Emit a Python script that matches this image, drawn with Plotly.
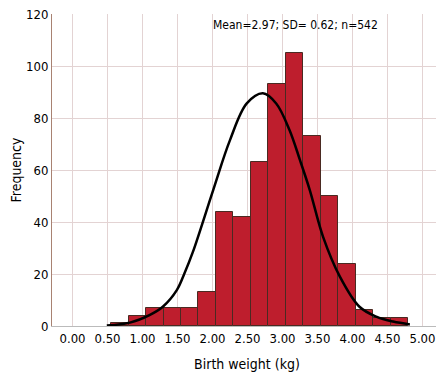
import plotly.graph_objects as go

# Histogram data (bin left edges, width 0.25 kg) and counts
bin_left = [0.55, 0.80, 1.05, 1.30, 1.55, 1.80, 2.05, 2.30, 2.55, 2.80,
            3.05, 3.30, 3.55, 3.80, 4.05, 4.30, 4.55]
counts = [1, 4, 7, 7, 7, 13, 44, 42, 63, 93, 105, 73, 50, 24, 6, 3, 3]
bin_width = 0.25

# Fitted curve, points
curve_x = [0.49, 0.82, 1.10, 1.29, 1.49, 1.60, 1.72, 2.01, 2.25, 2.49, 2.72,
           2.91, 3.10, 3.25, 3.39, 3.58, 3.82, 4.10, 4.34, 4.58, 4.82]
curve_y = [0.2, 1.3, 4.2, 7.4, 13.8, 20.3, 28.5, 52.3, 71.5, 85.6, 89.5,
           85.6, 75.4, 63.8, 52.3, 34.3, 19.0, 7.4, 3.6, 1.7, 0.6]

x_ticks = [0.0, 0.5, 1.0, 1.5, 2.0, 2.5, 3.0, 3.5, 4.0, 4.5, 5.0]
x_tick_labels = ["0.00", "0.50", "1.00", "1.50", "2.00", "2.50", "3.00",
                 "3.50", "4.00", "4.50", "5.00"]
y_ticks = [0, 20, 40, 60, 80, 100, 120]

FONT = "Liberation Sans Narrow, DejaVu Sans Condensed, Arial Narrow, sans-serif"

centers = [b + bin_width / 2 for b in bin_left]

fig = go.Figure()
fig.add_trace(go.Bar(
    x=centers, y=counts, width=[bin_width] * len(counts),
    marker=dict(color="#BE1E2D", line=dict(color="#4A2A22", width=1)),
    showlegend=False, hoverinfo="x+y",
))
fig.add_trace(go.Scatter(
    x=curve_x, y=curve_y, mode="lines",
    line=dict(color="black", width=2.5, shape="spline", smoothing=1.0),
    showlegend=False,
))

fig.add_annotation(
    x=3.18, y=115.8, xref="x", yref="y",
    text="Mean=2.97; SD= 0.62; n=542", showarrow=False,
    font=dict(family=FONT, size=12, color="black"),
)

# page body has an 8px default margin, so the figure is sized to fit the window
fig.update_layout(
    width=436, height=366,
    margin=dict(l=44, r=2, t=6, b=48),
    plot_bgcolor="white", paper_bgcolor="white",
    font=dict(family=FONT, color="black", size=13),
    bargap=0,
)
fig.update_xaxes(
    range=[-0.293, 5.279], tickvals=x_ticks, ticktext=x_tick_labels,
    showgrid=True, gridcolor="#E3D3D3", gridwidth=1,
    showline=True, linecolor="#BBBBBB", linewidth=1,
    zeroline=False, ticks="", tickfont=dict(size=13), automargin=False,
    ticklabeloverflow="allow",
    title=dict(text="Birth weight (kg)", font=dict(size=14), standoff=14),
)
fig.update_yaxes(
    range=[0, 120], tickvals=y_ticks,
    showgrid=True, gridcolor="#E3D3D3", gridwidth=1,
    showline=True, linecolor="#A88272", linewidth=1,
    zeroline=False, ticks="", tickfont=dict(size=13), automargin=False,
    ticklabeloverflow="allow",
    title=dict(text="Frequency", font=dict(size=14), standoff=6),
)

fig.write_html("out.html")
